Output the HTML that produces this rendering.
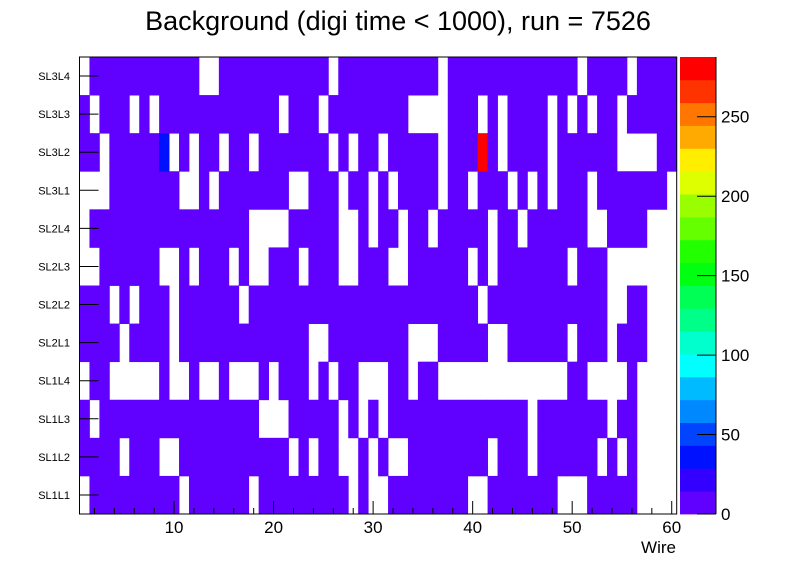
<!DOCTYPE html>
<html><head><meta charset="utf-8"><style>
html,body{margin:0;padding:0;background:#fff;}
svg{display:block;font-family:"Liberation Sans",Arial,sans-serif;}
</style></head><body>
<svg id="chart" width="796" height="572" viewBox="0 0 796 572" xmlns="http://www.w3.org/2000/svg">
<text x="398" y="30" text-anchor="middle" font-size="27">Background (digi time &lt; 1000), run = 7526</text>
<g id="cells"></g>
<g id="axes"></g>
<g id="cbar"></g>
<text x="676" y="553" text-anchor="end" font-size="17">Wire</text>
</svg>
<script>
const layers = ["SL1L1","SL1L2","SL1L3","SL1L4","SL2L1","SL2L2","SL2L3","SL2L4","SL3L1","SL3L2","SL3L3","SL3L4"];
const xTicks = [10,20,30,40,50,60];
const zTicks = [0,50,100,150,200,250];
// empty (white) wires per layer, all others ~5 counts
const emptySL1L1 = [1,11,18,28,30,31,40,41,49,50,51,57,58,59,60];
const emptySL1L2 = [5,9,10,22,24,27,28,30,32,33,42,46,53,55,57,58,59,60];
const emptySL1L3 = [2,19,20,21,27,29,31,46,54,57,58,59,60];
const emptySL1L4 = [1,4,5,6,7,8,10,11,13,14,16,17,18,20,24,26,29,30,31,34,37,38,39,40,41,42,43,44,45,46,47,48,49,52,53,54,55,57,58,59,60];
const emptySL2L1 = [5,10,24,25,34,35,36,42,43,50,54,58,59,60];
const emptySL2L2 = [4,6,10,17,41,54,55,58,59,60];
const emptySL2L3 = [1,2,9,10,12,16,18,19,23,27,28,32,33,40,42,50,54,55,56,57,58,59,60];
const emptySL2L4 = [1,18,19,20,21,27,28,30,33,36,42,45,52,53,58,59,60];
const emptySL3L1 = [1,2,3,11,12,14,22,23,27,30,32,37,40,44,46,48,52,60];
const emptySL3L2 = [3,10,12,15,18,26,28,31,37,43,48,55,56,57,58];
const emptySL3L3 = [2,6,8,21,25,34,35,36,37,41,43,48,50,52,55];
const emptySL3L4 = [1,13,14,26,37,51,56];
const baseCount = 5;
const hotCells = [{layer:"SL3L2",wire:9,value:36},{layer:"SL3L2",wire:41,value:285}];
const zMax = 287.6;

const palette=["#6000ff","#3300ff","#0011ff","#0044ff","#0088ff","#00bbff","#00ffff","#00ffcc","#00ff88","#00ff55","#00ff11","#22ff00","#66ff00","#99ff00","#ddff00","#ffee00","#ffaa00","#ff7700","#ff3300","#ff0000"];
const NS="http://www.w3.org/2000/svg";
const X0=79.5,X1=676.7,Y0=57,Y1=514,CB0=680,CB1=716;
const xs=v=>X0+(v-0.5)*(X1-X0)/60;
const ys=i=>Y1-(i+1)*(Y1-Y0)/12;
const zs=z=>Y1-z*(Y1-Y0)/zMax;
function mk(t,a,p){const e=document.createElementNS(NS,t);for(const k in a)e.setAttribute(k,a[k]);p.appendChild(e);return e;}
const empties={SL1L1:emptySL1L1,SL1L2:emptySL1L2,SL1L3:emptySL1L3,SL1L4:emptySL1L4,SL2L1:emptySL2L1,SL2L2:emptySL2L2,SL2L3:emptySL2L3,SL2L4:emptySL2L4,SL3L1:emptySL3L1,SL3L2:emptySL3L2,SL3L3:emptySL3L3,SL3L4:emptySL3L4};
const cells=document.getElementById('cells');
layers.forEach((L,li)=>{
  for(let w=1;w<=60;w++){
    let v=empties[L].includes(w)?0:baseCount;
    hotCells.forEach(h=>{if(h.layer===L&&h.wire===w)v=h.value;});
    if(v<=0)continue;
    const b=Math.min(19,Math.floor(v/zMax*20));
    const r=mk('rect',{x:xs(w-0.5),y:ys(li),width:xs(w+0.5)-xs(w-0.5)+0.4,height:(Y1-Y0)/12+0.4,fill:palette[b]},cells);
    
    
  }
});
const ax=document.getElementById('axes');
mk('rect',{x:X0,y:Y0,width:X1-X0,height:Y1-Y0,fill:'none',stroke:'#000','stroke-width':1},ax);
for(let v=2;v<=60;v+=2){const maj=v%10===0;mk('line',{x1:xs(v),x2:xs(v),y1:Y1,y2:Y1-(maj?13:6),stroke:'#000'},ax);}
xTicks.forEach(v=>{const t=mk('text',{x:xs(v),y:533,'text-anchor':'middle','font-size':17},ax);t.textContent=v;

});
layers.forEach((L,li)=>{const yc=ys(li)+(Y1-Y0)/24;mk('line',{x1:X0,x2:X0+19,y1:yc,y2:yc,stroke:'#000'},ax);
const t=mk('text',{x:70,y:yc+4,'text-anchor':'end','font-size':11},ax);t.textContent=L;

});
const cb=document.getElementById('cbar');
palette.forEach((c,i)=>{const r=mk('rect',{x:CB0,y:zs((i+1)*zMax/20),width:CB1-CB0,height:(Y1-Y0)/20+0.4,fill:c},cb);

});
mk('line',{x1:CB1,x2:CB1,y1:Y0,y2:Y1,stroke:'#000'},cb);
zTicks.forEach(z=>{mk('line',{x1:CB1-19,x2:CB1,y1:zs(z),y2:zs(z),stroke:'#000'},cb);
const t=mk('text',{x:721,y:zs(z)+6,'font-size':17},cb);t.textContent=z;

});
</script>
</body></html>
